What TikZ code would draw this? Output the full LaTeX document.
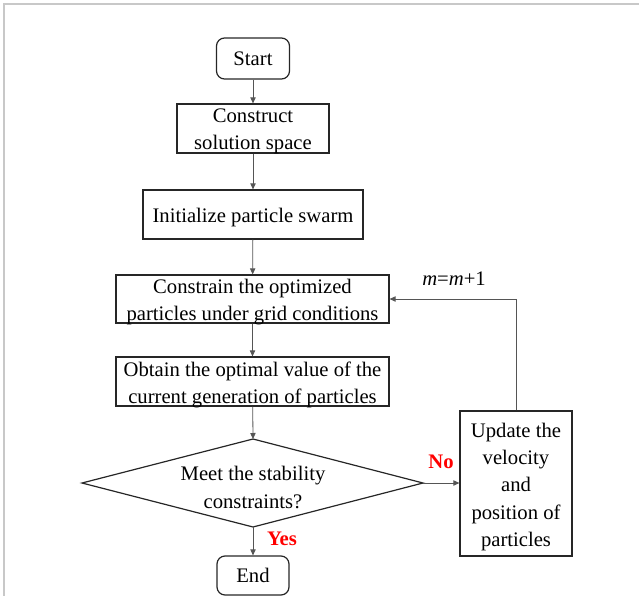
\documentclass[tikz,border=0pt]{standalone}
\usepackage{fontspec}
\setmainfont{Liberation Serif}
\usetikzlibrary{arrows.meta,calc}
\definecolor{linegray}{HTML}{555555}
\definecolor{framegray}{HTML}{C8C8C8}
\definecolor{labred}{HTML}{FF0000}
\begin{document}
\begin{tikzpicture}[x=0.75pt,y=-0.75pt,
  every node/.style={font=\fontsize{15.5}{20.3}\selectfont},
  boxstyle/.style={draw=black!85, line width=0.9pt, inner sep=0pt, align=center},
  roundbox/.style={boxstyle, rounded corners=6pt},
  txt/.style={align=center, inner sep=0pt, font=\fontsize{15.5}{20.3}\selectfont},
  conn/.style={draw=linegray, line width=0.6pt, -{Triangle[length=4.5pt,width=4pt]}},
  redlabel/.style={text=labred, font=\fontsize{15.5}{18}\selectfont\bfseries}
]
\useasboundingbox (0,0) rectangle (639,596);
% frame
\draw[framegray, line width=1.4pt] (4,596) -- (4,4) -- (639,4);

\node[roundbox, minimum width=73*0.75pt, minimum height=41*0.75pt] (start) at (253,58.5) {Start};
\node[boxstyle, minimum width=152*0.75pt, minimum height=49*0.75pt] (construct) at (253,128.5) {};
\node[txt] (constructtxt) at ($(construct.center)+(0,3)$) {Construct\\solution space};
\node[boxstyle, minimum width=220*0.75pt, minimum height=49*0.75pt] (init) at (253,214.5) {};
\node[txt] (inittxt) at ($(init.center)+(0,3)$) {Initialize particle swarm};
\node[boxstyle, minimum width=273*0.75pt, minimum height=48*0.75pt] (constrain) at (252.5,299) {};
\node[txt] (constraintxt) at ($(constrain.center)+(0,3)$) {Constrain the optimized\\particles under grid conditions};
\node[boxstyle, minimum width=273*0.75pt, minimum height=49*0.75pt] (obtain) at (252.5,381.5) {};
\node[txt] (obtaintxt) at ($(obtain.center)+(0,3)$) {Obtain the optimal value of the\\current generation of particles};

% decision
\node[txt] (dec) at (253,487.5) {Meet the stability\\constraints?};
\coordinate (dtop) at (253,439);
\coordinate (dright) at (423,483);
\coordinate (dbot) at (253,527);
\coordinate (dleft) at (82,483);
\draw[black!85, line width=0.9pt] (dtop) -- (dright) -- (dbot) -- (dleft) -- cycle;

\node[roundbox, minimum width=72*0.75pt, minimum height=39*0.75pt] (end) at (253,575.5) {End};
\node[boxstyle, minimum width=112*0.75pt, minimum height=145*0.75pt] (update) at (516,483.5) {};
\node[txt, font=\fontsize{15.5}{20.6}\selectfont] (updatetxt) at ($(update.center)+(0,3.5)$) {Update the\\velocity\\and\\position of\\particles};

\draw[conn] (start) -- (construct);
\draw[conn] (construct) -- (init);
\draw[conn] (init) -- (constrain);
\draw[conn] (constrain) -- (obtain);
\draw[conn] (obtain) -- (dtop);
\draw[conn] (dbot) -- (end);
\draw[conn] (dright) -- (update.west |- dright);
\draw[conn] (update.north) |- (constrain.east);

\node (mlabel) at (454,279) {\textit{m}=\textit{m}+1};
\node[redlabel] (nolabel) at (441,462) {No};
\node[redlabel] (yeslabel) at (282,539) {Yes};
\end{tikzpicture}
\end{document}
